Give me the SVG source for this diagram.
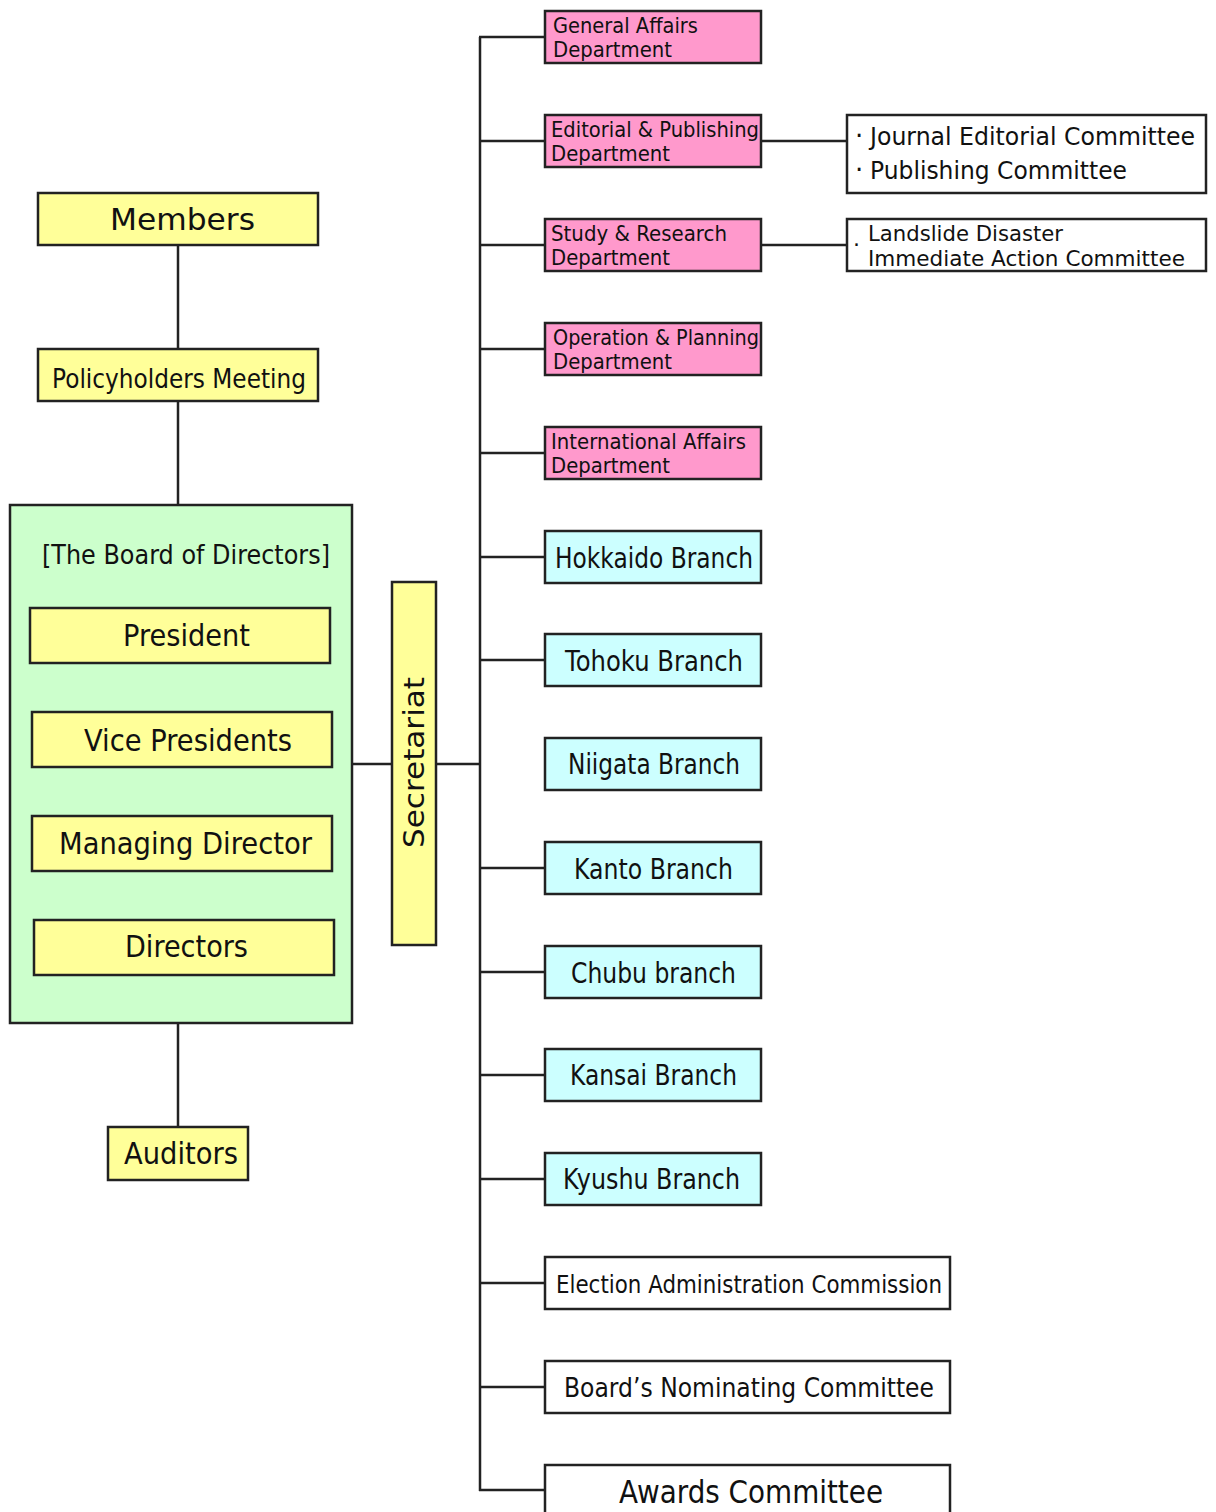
<svg xmlns="http://www.w3.org/2000/svg" width="1216" height="1512" viewBox="0 0 1216 1512">
<style>
rect{stroke:#222;stroke-width:2.5}
.y{fill:#ffff99}.p{fill:#ff99cc}.c{fill:#ccffff}.g{fill:#ccffcc}.w{fill:#ffffff}
text{font-family:"DejaVu Sans",Verdana,sans-serif;fill:#111}
.conn line{stroke:#222;stroke-width:2.5}
</style>
<rect width="1216" height="1512" fill="#ffffff" style="stroke:none"/>
<g class="conn">
<line x1="178" y1="245" x2="178" y2="349"/>
<line x1="178" y1="401" x2="178" y2="505"/>
<line x1="178" y1="1023" x2="178" y2="1127"/>
<line x1="352" y1="764" x2="392" y2="764"/>
<line x1="436" y1="764" x2="480" y2="764"/>
<line x1="480" y1="37" x2="480" y2="1491"/>
<line x1="479" y1="37" x2="545" y2="37"/>
<line x1="480" y1="141" x2="545" y2="141"/>
<line x1="480" y1="245" x2="545" y2="245"/>
<line x1="480" y1="349" x2="545" y2="349"/>
<line x1="480" y1="453" x2="545" y2="453"/>
<line x1="480" y1="557" x2="545" y2="557"/>
<line x1="480" y1="660" x2="545" y2="660"/>
<line x1="480" y1="868" x2="545" y2="868"/>
<line x1="480" y1="972" x2="545" y2="972"/>
<line x1="480" y1="1075" x2="545" y2="1075"/>
<line x1="480" y1="1179" x2="545" y2="1179"/>
<line x1="480" y1="1283" x2="545" y2="1283"/>
<line x1="480" y1="1387" x2="545" y2="1387"/>
<line x1="479" y1="1490" x2="545" y2="1490"/>
<line x1="761" y1="141" x2="847" y2="141"/>
<line x1="761" y1="245" x2="847" y2="245"/>
</g>
<g id="members"><rect class="y" x="38" y="193" width="280" height="52"/><text x="110" y="230" font-size="30" textLength="145" lengthAdjust="spacingAndGlyphs">Members</text></g>
<g id="policyholders"><rect class="y" x="38" y="349" width="280" height="52"/><text x="52" y="388" font-size="27" textLength="254" lengthAdjust="spacingAndGlyphs">Policyholders Meeting</text></g>
<g id="board"><rect class="g" x="10" y="505" width="342" height="518"/><text x="42" y="564" font-size="26" textLength="288" lengthAdjust="spacingAndGlyphs">[The Board of Directors]</text></g>
<g id="president"><rect class="y" x="30" y="608" width="300" height="55"/><text x="123" y="646" font-size="30" textLength="127" lengthAdjust="spacingAndGlyphs">President</text></g>
<g id="vice"><rect class="y" x="32" y="712" width="300" height="55"/><text x="84" y="751" font-size="30" textLength="208" lengthAdjust="spacingAndGlyphs">Vice Presidents</text></g>
<g id="managing"><rect class="y" x="32" y="816" width="300" height="55"/><text x="59" y="854" font-size="30" textLength="253" lengthAdjust="spacingAndGlyphs">Managing Director</text></g>
<g id="directors"><rect class="y" x="34" y="920" width="300" height="55"/><text x="125" y="957" font-size="30" textLength="123" lengthAdjust="spacingAndGlyphs">Directors</text></g>
<g id="auditors"><rect class="y" x="108" y="1127" width="140" height="53"/><text x="124" y="1164" font-size="30" textLength="114" lengthAdjust="spacingAndGlyphs">Auditors</text></g>
<g id="secretariat"><rect class="y" x="392" y="582" width="44" height="363"/><text transform="translate(424,848) rotate(-90)" font-size="29" textLength="171" lengthAdjust="spacingAndGlyphs">Secretariat</text></g>
<g id="general"><rect class="p" x="545" y="11" width="216" height="52"/><text x="553" y="33" font-size="21" textLength="145" lengthAdjust="spacingAndGlyphs">General Affairs</text><text x="553" y="57" font-size="21" textLength="119" lengthAdjust="spacingAndGlyphs">Department</text></g>
<g id="editorial"><rect class="p" x="545" y="115" width="216" height="52"/><text x="551" y="137" font-size="21" textLength="208" lengthAdjust="spacingAndGlyphs">Editorial &amp; Publishing</text><text x="551" y="161" font-size="21" textLength="119" lengthAdjust="spacingAndGlyphs">Department</text></g>
<g id="study"><rect class="p" x="545" y="219" width="216" height="52"/><text x="551" y="241" font-size="21" textLength="176" lengthAdjust="spacingAndGlyphs">Study &amp; Research</text><text x="551" y="265" font-size="21" textLength="119" lengthAdjust="spacingAndGlyphs">Department</text></g>
<g id="operation"><rect class="p" x="545" y="323" width="216" height="52"/><text x="553" y="345" font-size="21" textLength="206" lengthAdjust="spacingAndGlyphs">Operation &amp; Planning</text><text x="553" y="369" font-size="21" textLength="119" lengthAdjust="spacingAndGlyphs">Department</text></g>
<g id="international"><rect class="p" x="545" y="427" width="216" height="52"/><text x="551" y="449" font-size="21" textLength="195" lengthAdjust="spacingAndGlyphs">International Affairs</text><text x="551" y="473" font-size="21" textLength="119" lengthAdjust="spacingAndGlyphs">Department</text></g>
<g id="hokkaido"><rect class="c" x="545" y="531" width="216" height="52"/><text x="555" y="568" font-size="28" textLength="198" lengthAdjust="spacingAndGlyphs">Hokkaido Branch</text></g>
<g id="tohoku"><rect class="c" x="545" y="634" width="216" height="52"/><text x="565" y="671" font-size="28" textLength="178" lengthAdjust="spacingAndGlyphs">Tohoku Branch</text></g>
<g id="niigata"><rect class="c" x="545" y="738" width="216" height="52"/><text x="568" y="774" font-size="28" textLength="172" lengthAdjust="spacingAndGlyphs">Niigata Branch</text></g>
<g id="kanto"><rect class="c" x="545" y="842" width="216" height="52"/><text x="574" y="879" font-size="28" textLength="159" lengthAdjust="spacingAndGlyphs">Kanto Branch</text></g>
<g id="chubu"><rect class="c" x="545" y="946" width="216" height="52"/><text x="571" y="983" font-size="28" textLength="165" lengthAdjust="spacingAndGlyphs">Chubu branch</text></g>
<g id="kansai"><rect class="c" x="545" y="1049" width="216" height="52"/><text x="570" y="1085" font-size="28" textLength="167" lengthAdjust="spacingAndGlyphs">Kansai Branch</text></g>
<g id="kyushu"><rect class="c" x="545" y="1153" width="216" height="52"/><text x="563" y="1189" font-size="28" textLength="177" lengthAdjust="spacingAndGlyphs">Kyushu Branch</text></g>
<g id="election"><rect class="w" x="545" y="1257" width="405" height="52"/><text x="556" y="1293" font-size="25" textLength="386" lengthAdjust="spacingAndGlyphs">Election Administration Commission</text></g>
<g id="nominating"><rect class="w" x="545" y="1361" width="405" height="52"/><text x="564" y="1397" font-size="27" textLength="370" lengthAdjust="spacingAndGlyphs">Board’s Nominating Committee</text></g>
<g id="awards"><rect class="w" x="545" y="1465" width="405" height="60"/><text x="619" y="1503" font-size="32" textLength="264" lengthAdjust="spacingAndGlyphs">Awards Committee</text></g>
<g id="journal"><rect class="w" x="847" y="115" width="359" height="78"/><text x="855" y="145" font-size="26">·</text><text x="870" y="145" font-size="25" textLength="325" lengthAdjust="spacingAndGlyphs">Journal Editorial Committee</text><text x="855" y="179" font-size="26">·</text><text x="870" y="179" font-size="25" textLength="257" lengthAdjust="spacingAndGlyphs">Publishing Committee</text></g>
<g id="landslide"><rect class="w" x="847" y="219" width="359" height="52"/><text x="853" y="252" font-size="22">·</text><text x="868" y="241" font-size="22" textLength="195" lengthAdjust="spacingAndGlyphs">Landslide Disaster</text><text x="868" y="266" font-size="22" textLength="317" lengthAdjust="spacingAndGlyphs">Immediate Action Committee</text></g>
</svg>
